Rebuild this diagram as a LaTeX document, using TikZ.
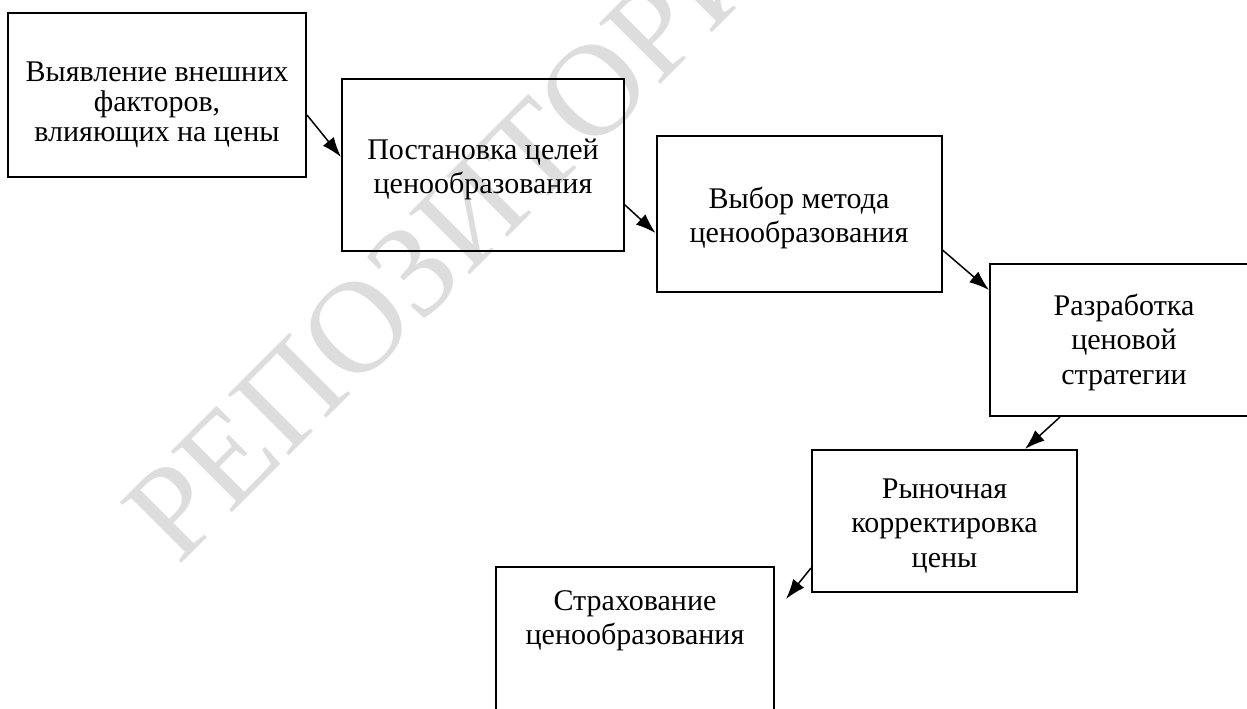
\documentclass[tikz,border=0pt]{standalone}
\usepackage{fontspec}
\setmainfont{Liberation Serif}
\usetikzlibrary{arrows.meta}
\definecolor{wmgray}{RGB}{221,221,221}

\begin{document}
\begin{tikzpicture}[x=1pt,y=-1pt,
  stage/.style={draw,line width=2pt,align=center,inner sep=0pt,
    font=\rmfamily\fontsize{30}{34.5}\selectfont},
  link/.style={-{Latex[length=20pt,width=14pt]},line width=1.5pt}]
  \clip (0,0) rectangle (1247,709);
  \node[anchor=base west,rotate=45,inner sep=0pt,text=wmgray,
    font=\rmfamily\fontsize{131.5}{131.5}\selectfont] (mark) at (178,567) {РЕПОЗИТОРИЙ};

  \node[stage,minimum width=298pt,minimum height=164pt,text height=100pt,text depth=6.6pt,
    font=\rmfamily\fontsize{30}{30}\selectfont] (factors) at (157,95)
    {Выявление внешних\\факторов,\\влияющих на цены};
  \node[stage,minimum width=282pt,minimum height=172pt,text height=62pt,text depth=5pt]
    (goals) at (483,165) {Постановка целей\\ценообразования};
  \node[stage,minimum width=285pt,minimum height=156pt,text height=62pt,text depth=5pt]
    (method) at (799,214) {Выбор метода\\ценообразования};
  \node[stage,minimum width=268pt,minimum height=152pt,text height=95pt,text depth=7pt]
    (strategy) at (1124,340) {Разработка\\ценовой\\стратегии};
  \node[stage,minimum width=265pt,minimum height=142pt,text height=98pt,text depth=6pt]
    (market) at (944.5,521) {Рыночная\\корректировка\\цены};
  \node[stage,minimum width=278pt,minimum height=153pt,text height=60pt,text depth=58pt]
    (insurance) at (635,643.5) {Страхование\\ценообразования};

  \draw[link] ([yshift=-20pt]factors.east) -- ([yshift=8pt]goals.west);
  \draw[link] ([yshift=-40pt]goals.east) -- ([yshift=-19pt]method.west);
  \draw[link] ([yshift=-36pt]method.east) -- ([yshift=50pt]strategy.west);
  \draw[link] ([xshift=-64pt]strategy.south) -- ([xshift=80.5pt]market.north);
  \draw[link] ([yshift=-47pt]market.west) -- ([xshift=11pt,yshift=-33pt]insurance.north east);
\end{tikzpicture}
\end{document}
